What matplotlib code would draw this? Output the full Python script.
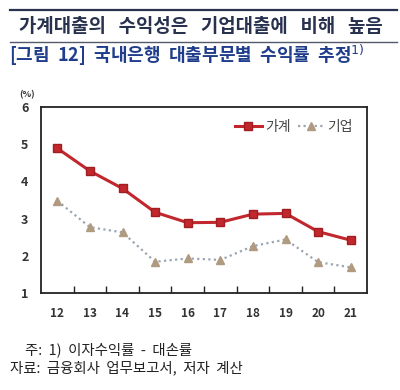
import matplotlib as mpl
import matplotlib.pyplot as plt
from matplotlib.lines import Line2D

mpl.rcParams["font.family"] = ["Noto Sans CJK KR", "DejaVu Sans"]

years = ["12", "13", "14", "15", "16", "17", "18", "19", "20", "21"]
household = [4.89, 4.28, 3.81, 3.17, 2.89, 2.90, 3.12, 3.14, 2.65, 2.42]
corporate = [3.48, 2.77, 2.63, 1.84, 1.93, 1.89, 2.26, 2.44, 1.83, 1.69]
yticks = [1, 2, 3, 4, 5, 6]

RED = "#c1272d"
TAN = "#b09a80"
DOT = "#9aa6b2"
NAVY = "#28324f"
BLUE = "#1f3d8c"

fig = plt.figure(figsize=(4.0, 3.9), dpi=100)
fig.patch.set_facecolor("white")

# header rules and titles
fig.add_artist(Line2D([0.025, 0.993], [0.974, 0.974], color=NAVY, lw=1.6,
                      transform=fig.transFigure))
fig.add_artist(Line2D([0.025, 0.993], [0.892, 0.892], color="#555a6a", lw=1.0,
                      transform=fig.transFigure))
fig.text(0.503, 0.931, "가계대출의   수익성은   기업대출에   비해   높음",
         ha="center", va="center", fontsize=13.6, fontweight="bold", color=NAVY)
fig.text(0.022, 0.859, "[그림  12]  국내은행  대출부문별  수익률  추정$^{1)}$",
         ha="left", va="center", fontsize=13, fontweight="bold", color=BLUE)

ax = fig.add_axes([0.1025, 0.2487, 0.815, 0.4769])
x = list(range(len(years)))
ax.plot(x, household, color=RED, lw=2.2, marker="s", ms=5.5,
        markerfacecolor=RED, markeredgecolor="#a01e22", label="가계")
ax.plot(x, corporate, color=DOT, lw=1.6, ls=(0, (1, 1.5)), marker="^",
        ms=6, markerfacecolor=TAN, markeredgecolor=TAN, label="기업")

ax.set_xlim(-0.5, len(years) - 0.5)
ax.set_ylim(1, 6)
ax.set_yticks(yticks)
ax.set_yticklabels([str(v) for v in yticks], fontsize=9, fontweight="bold",
                   color="#333333")
ax.set_xticks([i + 0.5 for i in range(len(years) - 1)])
ax.set_xticklabels([])
ax.set_xticks(x, minor=True)
ax.set_xticklabels(years, minor=True, fontsize=8.5, fontweight="bold",
                   color="#333333")
ax.tick_params(axis="x", which="major", direction="in", length=5, width=1,
               color="#222222")
ax.tick_params(axis="x", which="minor", length=0, pad=10)
ax.tick_params(axis="y", length=0, pad=9)
for s in ax.spines.values():
    s.set_color("#222222")
    s.set_linewidth(1.3)

fig.text(0.068, 0.756, "(%)", fontsize=6.5, fontweight="bold", color="#333333",
         ha="center", va="center")

leg = ax.legend(loc="upper right", ncol=2, frameon=False, fontsize=10,
                handlelength=1.9, columnspacing=0.5, handletextpad=0.25,
                bbox_to_anchor=(0.995, 1.0))
for t in leg.get_texts():
    t.set_color("#444444")

fig.text(0.063, 0.103, "주:  1)  이자수익률  -  대손률", fontsize=10.4,
         color="#222222", ha="left", va="center")
fig.text(0.025, 0.056, "자료:  금융회사  업무보고서,  저자  계산", fontsize=10.4,
         color="#222222", ha="left", va="center")

fig.savefig("out.png", dpi=100, facecolor="white")
plt.close(fig)
